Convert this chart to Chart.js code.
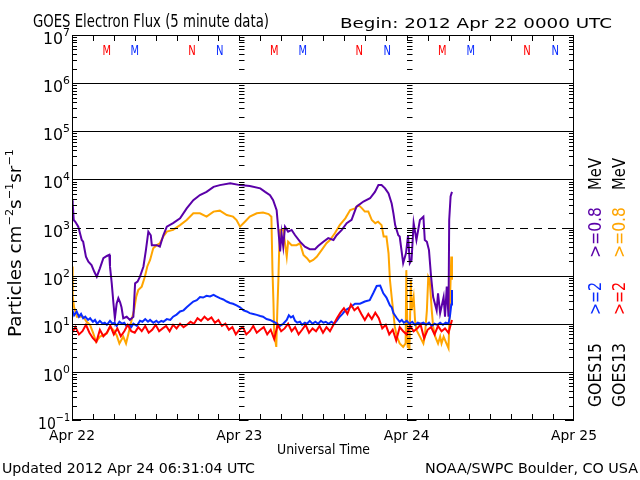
<!DOCTYPE html>
<html><head><meta charset="utf-8">
<script src="https://cdn.jsdelivr.net/npm/chart.js@4.4.0/dist/chart.umd.min.js"></script>
<style>html,body{margin:0;padding:0;background:#fff;}canvas{display:block;}</style>
</head><body>
<canvas id="c" width="640" height="480"></canvas>
<script>
// ---- Data: [hours since 2012 Apr 22 00:00 UTC, flux] ----
const goes15_08MeV = [[0,3700],[0.1,3200],[0.25,1430],[0.5,1300],[0.9,1040],[1.4,550],[1.6,507],[2.0,247],[2.35,195],[2.8,166],[3.2,120],[3.55,95],[4.0,142],[4.5,230],[5.0,256],[5.35,270],[5.45,154],[5.7,69],[5.95,26],[6.15,13],[6.4,26],[6.65,34],[6.9,28],[7.1,22],[7.35,13],[7.85,14],[8.3,12],[8.8,14],[9.05,69],[9.4,75],[9.75,95],[10.25,155],[10.6,340],[10.95,820],[11.3,690],[11.45,430],[12.15,430],[12.6,400],[13.1,690],[13.6,1040],[14.5,1230],[15.5,1550],[16.45,2500],[17.4,3700],[18.35,4730],[19.3,5500],[20.3,7000],[21.2,7600],[22.7,8300],[24.1,7600],[25.5,7300],[27.0,6500],[27.7,5500],[28.4,4700],[28.85,3700],[29.35,2300],[29.6,890],[29.85,318],[30.05,760],[30.3,400],[30.55,1040],[31.0,820],[31.5,890],[32.0,690],[32.7,507],[33.4,400],[34.1,355],[34.85,355],[35.3,412],[36.05,507],[36.75,600],[37.5,550],[37.95,690],[38.7,890],[39.4,1230],[40.1,1440],[40.8,2700],[41.8,3460],[42.75,4050],[43.45,5500],[43.95,7600],[44.4,7600],[44.9,6500],[45.4,5100],[45.85,3160],[46.1,1970],[46.35,1120],[46.8,690],[47.0,650],[47.5,182],[47.9,290],[48.2,690],[48.45,182],[48.7,211],[49.0,1230],[49.4,550],[49.9,1430],[50.4,1680],[50.6,550],[50.9,507],[51.2,340],[51.5,95],[51.8,36],[52.3,19],[52.5,43],[52.8,16.6],[53.3,36],[53.5,14],[53.75,59],[54.0,14],[54.1,1430],[54.3,4400],[54.5,5500]];

const goes13_08MeV = [[0,155],[0.1,36],[0.3,22],[0.7,14],[1.15,14],[1.6,14],[2.1,11],[2.6,9.4],[3.05,6.3],[3.45,4.2],[4.0,5.4],[5.0,6.3],[5.45,8.7],[5.95,7.4],[6.4,5.8],[6.8,3.9],[7.35,5.4],[7.75,3.9],[8.1,6.3],[8.55,12],[8.9,19],[9.2,36],[9.5,50],[10.0,59],[10.45,95],[10.8,155],[11.2,211],[11.65,370],[12.15,430],[12.6,470],[13.1,650],[13.6,820],[14.5,890],[15.5,1120],[16.45,1430],[17.4,1970],[18.35,1970],[19.3,1680],[20.3,2140],[21.2,2240],[22.2,1820],[23.1,1680],[23.6,1430],[24.1,1040],[24.8,1320],[25.5,1680],[26.5,1970],[27.4,2050],[28.2,1900],[28.6,1680],[28.75,130],[28.9,26],[29.0,6.3],[29.3,3.3],[29.45,19],[29.6,82],[29.7,290],[29.85,890],[30.3,890],[30.8,247],[31.0,507],[31.5,430],[32.2,430],[32.7,470],[33.2,270],[33.7,230],[34.1,195],[34.6,211],[35.1,247],[35.8,340],[36.5,470],[37.0,550],[37.7,760],[38.4,1120],[39.2,1550],[39.9,2300],[40.6,2500],[41.1,2930],[41.6,2500],[42.0,2140],[42.5,2140],[43.0,1430],[43.5,1230],[43.9,1320],[44.4,1120],[44.7,650],[45.1,650],[45.4,290],[45.6,82],[45.85,36],[46.1,16.6],[46.3,8.7],[46.6,5.4],[47.0,3.9],[47.5,3.3],[47.85,3.9],[47.95,130],[48.15,3.3],[48.4,3.1],[48.6,82],[48.7,19],[49.0,36],[49.2,12],[49.4,7.4],[49.9,5.4],[50.4,3.9],[50.6,5.4],[50.9,19],[51.1,95],[51.3,82],[51.6,19],[51.8,8.7],[52.1,5.4],[52.5,3.9],[52.8,5.4],[53.0,3.9],[53.3,5.4],[53.7,3.9],[54.0,3.1],[54.2,26],[54.4,250],[54.5,82]];

const goes15_2MeV = [[0,20],[0.3,15],[0.67,18],[1.0,14],[1.3,16],[1.6,13],[1.9,14],[2.3,12],[2.6,13],[3.0,11],[3.3,12],[3.6,10],[4.0,11.5],[4.4,10],[4.7,10.5],[5.0,9.5],[5.45,11.5],[5.8,10],[6.1,10.5],[6.4,9],[6.8,11],[7.2,10],[7.5,10.5],[7.8,9],[8.2,9.5],[8.5,8.5],[8.8,10],[9.3,9],[9.75,11.5],[10.1,11],[10.5,12.5],[10.9,11],[11.2,12],[11.66,10.5],[12.1,11.5],[12.4,10.5],[12.8,11.5],[13.1,11],[13.6,12.5],[14.1,12],[14.5,14],[15.0,15.5],[15.5,18],[16.0,19],[16.45,22],[16.9,25],[17.4,29],[17.9,31],[18.36,36],[18.8,35],[19.3,38],[19.8,37],[20.3,40],[20.7,37],[21.2,34],[21.7,32],[22.2,29],[22.66,27],[23.1,26],[23.6,24],[24.1,22],[24.6,19],[25.06,18],[25.5,16.6],[26.0,16],[26.5,15.3],[27.0,14.5],[27.4,14],[27.9,12.5],[28.4,12],[28.9,11],[29.35,10.2],[29.8,9],[30.3,10],[30.8,12],[31.1,15],[31.4,13.5],[31.7,14.5],[32.0,11.5],[32.3,10.5],[32.7,11],[33.0,9.5],[33.4,10.5],[33.7,10],[34.1,11.5],[34.5,10],[34.9,11],[35.3,10],[35.7,11.5],[36.05,10.5],[36.4,11],[36.8,10],[37.2,11],[37.6,10],[37.96,11.5],[38.4,14],[38.8,16],[39.2,19],[39.9,22],[40.6,26],[41.3,26],[42.0,29],[42.7,31],[43.2,43],[43.7,61],[44.2,62],[44.65,43],[45.1,35],[45.6,24],[45.85,22],[46.1,16.6],[46.6,13],[47.0,11],[47.3,12],[47.6,10.5],[48.0,11.5],[48.4,10],[48.8,11],[49.2,9.5],[49.6,10.5],[50.0,10],[50.4,10.5],[50.8,9.5],[51.2,10.5],[51.6,9],[52.0,10],[52.4,9.5],[52.8,10.5],[53.2,9.5],[53.6,10.5],[54.0,10],[54.2,14],[54.4,25],[54.5,50]];

const goes13_2MeV = [[0,6.5],[0.5,8.5],[1,6],[1.5,7],[2,9.5],[2.5,6.5],[3,5],[3.5,4.2],[4,7.5],[4.5,5.5],[5,6.5],[5.5,9],[6,6],[6.5,8],[7,5.5],[7.5,7],[8,9.5],[8.5,7],[9,6.5],[9.5,8.5],[10,7],[10.5,9],[11,6.5],[11.5,7.5],[12,9.5],[12.5,7],[13,8],[13.5,9],[14,7],[14.5,9.5],[15,8],[15.5,10],[16,8.5],[16.5,9.5],[17,11],[17.5,10],[18,13],[18.5,11.5],[19,14],[19.5,12],[20,13.5],[20.5,10.5],[21,12],[21.5,9],[22,10],[22.5,7.5],[23,8.5],[23.5,6],[24,7.5],[24.5,8.5],[25,6],[25.5,7],[26,9],[26.5,6.5],[27,7.5],[27.5,8.5],[28,6],[28.5,7.5],[29,4.8],[29.5,9.5],[30,7],[30.5,8],[31,10],[31.5,7],[32,8.5],[32.5,6],[33,7.5],[33.5,9.5],[34,6.5],[34.5,8],[35,7],[35.5,9],[36,6.5],[36.5,8.5],[37,7],[37.5,9.5],[38,13],[38.5,17],[39,21],[39.5,16],[40,25],[40.5,19],[41,22],[41.5,16],[42,12],[42.5,16],[43,12.5],[43.5,17],[44,13],[44.5,8],[45,9.5],[45.5,6],[46,7.5],[46.5,4.5],[47,8.5],[47.5,7],[48,6],[48.5,9],[49,7],[49.5,8],[50,9.5],[50.5,5],[51,7.5],[51.5,8.5],[52,6],[52.5,9],[53,7],[53.5,8],[54,6.5],[54.5,12]];

// Local midnight (M) and noon (N) markers, hours
const g13Midnight = [5, 29, 53.1];
const g15Midnight = [9, 33.1, 57.2];
const g13Noon = [17.2, 41.2, 65.25];
const g15Noon = [21.2, 45.2, 69.3];

const dayTicks = [0, 24, 48, 72];
const dayLabels = ['Apr 22', 'Apr 23', 'Apr 24', 'Apr 25'];
const decades = [-1, 0, 1, 2, 3, 4, 5, 6, 7];

const FONT = '"DejaVu Sans", "Liberation Sans", sans-serif';
const PURPLE = '#5a00a8', ORANGE = '#ffa500', BLUE = '#0a2cff', RED = '#ff0000';

function drawRuns(ctx, runs, x, y, o) {
  o = o || {};
  ctx.save();
  ctx.textBaseline = o.base || 'alphabetic';
  ctx.textAlign = 'left';
  let W = 0;
  const ws = runs.map(r => { ctx.font = r.s + 'px ' + FONT; const w = ctx.measureText(r.t).width; W += w; return w; });
  const sx = o.w ? o.w / W : 1;
  ctx.translate(x, y);
  if (o.rot) ctx.rotate(o.rot);
  ctx.scale(sx, 1);
  let cx = o.align === 'center' ? -W / 2 : (o.align === 'right' ? -W : 0);
  runs.forEach((r, i) => {
    ctx.font = r.s + 'px ' + FONT;
    ctx.fillStyle = r.c || '#000';
    ctx.fillText(r.t, cx, r.dy || 0);
    cx += ws[i];
  });
  ctx.restore();
}

const pts = arr => arr.map(p => ({x: p[0], y: p[1]}));

const decorPlugin = {
  id: 'decor',
  afterDatasetsDraw(chart) {
    const ctx = chart.ctx, xs = chart.scales.x, ys = chart.scales.y, a = chart.chartArea;
    const L = a.left, R = a.right, T = a.top, B = a.bottom;
    const py = v => Math.round(ys.getPixelForValue(v)) + 0.5;
    const px = h => Math.round(xs.getPixelForValue(h)) + 0.5;
    ctx.save();
    ctx.strokeStyle = '#000';
    ctx.lineWidth = 1;
    decades.forEach(d => {
      if (d <= -1 || d >= 7) return;
      const y = py(Math.pow(10, d));
      ctx.beginPath();
      ctx.setLineDash(d === 3 ? [8, 6] : []);
      ctx.moveTo(L, y); ctx.lineTo(R, y); ctx.stroke();
    });
    ctx.setLineDash([]);
    ctx.beginPath();
    decades.forEach(d => {
      if (d >= 7) return;
      for (let m = 2; m <= 9; m++) {
        const y = py(m * Math.pow(10, d));
        ctx.moveTo(L, y); ctx.lineTo(L + 5, y);
        ctx.moveTo(R, y); ctx.lineTo(R - 5, y);
        [24, 48].forEach(h => { const x = px(h); ctx.moveTo(x - 0.5, y); ctx.lineTo(x + 5, y); });
      }
    });
    decades.forEach(d => {
      const y = py(Math.pow(10, d));
      ctx.moveTo(L, y); ctx.lineTo(L + 9, y);
      ctx.moveTo(R, y); ctx.lineTo(R - 9, y);
      [24, 48].forEach(h => { const x = px(h); ctx.moveTo(x - 0.5, y); ctx.lineTo(x + 9, y); });
    });
    for (let h = 3; h < 72; h += 3) {
      const x = px(h);
      ctx.moveTo(x, T); ctx.lineTo(x, T + 6);
      ctx.moveTo(x, B); ctx.lineTo(x, B - 6);
    }
    ctx.stroke();
    ctx.strokeRect(L + 0.5, T + 0.5, R - L - 1, B - T - 1);
    ctx.restore();

    decades.forEach(d => {
      const y = ys.getPixelForValue(Math.pow(10, d));
      const e = String(d).replace('-', '\u2212');
      drawRuns(ctx, [{t: '10', s: 16}, {t: e, s: 11, dy: -8}], 70, y + 9, {align: 'right', w: d < 0 ? 32 : 27});
    });
    dayTicks.forEach((h, i) => {
      drawRuns(ctx, [{t: dayLabels[i], s: 14}], xs.getPixelForValue(h), 440, {align: 'center', w: 46});
    });
    const mark = (arr, t, c) => arr.forEach(h => {
      if (h > 72) return;
      drawRuns(ctx, [{t: t, s: 14, c: c}], xs.getPixelForValue(h), 55, {align: 'center', w: t === 'M' ? 8.5 : 7.5});
    });
    mark(g13Midnight, 'M', RED); mark(g15Midnight, 'M', BLUE);
    mark(g13Noon, 'N', RED); mark(g15Noon, 'N', BLUE);
  }
};

const textPlugin = {
  id: 'texts',
  afterDraw(chart) {
    const ctx = chart.ctx;
    drawRuns(ctx, [{t: 'GOES Electron Flux (5 minute data)', s: 17}], 33, 27, {w: 236});
    drawRuns(ctx, [{t: 'Begin: 2012 Apr 22 0000 UTC', s: 14}], 340, 28, {w: 272});
    drawRuns(ctx, [{t: 'Universal Time', s: 14}], 323.5, 454, {align: 'center', w: 93});
    drawRuns(ctx, [{t: 'Updated 2012 Apr 24 06:31:04 UTC', s: 14}], 2, 473, {w: 253});
    drawRuns(ctx, [{t: 'NOAA/SWPC Boulder, CO USA', s: 14}], 638, 473, {align: 'right', w: 213});
    drawRuns(ctx, [
      {t: 'Particles cm', s: 18}, {t: '\u22122', s: 11, dy: -8},
      {t: 's', s: 18}, {t: '\u22121', s: 11, dy: -8},
      {t: 'sr', s: 18}, {t: '\u22121', s: 11, dy: -8}
    ], 21, 243, {rot: -Math.PI / 2, align: 'center', w: 188});
    const rot = -Math.PI / 2;
    const col = (x, sat, c2, c08) => {
      drawRuns(ctx, [{t: sat, s: 17}], x, 375, {rot, align: 'center', w: 64, base: 'middle'});
      drawRuns(ctx, [{t: '>=2', s: 17, c: c2}], x, 298.5, {rot, align: 'center', w: 33, base: 'middle'});
      drawRuns(ctx, [{t: '>=0.8', s: 17, c: c08}], x, 232.5, {rot, align: 'center', w: 51, base: 'middle'});
      drawRuns(ctx, [{t: 'MeV', s: 17}], x, 174, {rot, align: 'center', w: 32, base: 'middle'});
    };
    col(597, 'GOES15', BLUE, PURPLE);
    col(621, 'GOES13', RED, ORANGE);
  }
};

const ds = (label, arr, color, order) => ({
  label, data: pts(arr), borderColor: color, backgroundColor: color,
  borderWidth: 2, pointRadius: 0, tension: 0, fill: false, order
});

new Chart(document.getElementById('c'), {
  type: 'line',
  data: {
    datasets: [
      ds('GOES13 >=2 MeV', goes13_2MeV, RED, 0),
      ds('GOES15 >=2 MeV', goes15_2MeV, BLUE, 1),
      ds('GOES15 >=0.8 MeV', goes15_08MeV, PURPLE, 2),
      ds('GOES13 >=0.8 MeV', goes13_08MeV, ORANGE, 3)
    ]
  },
  options: {
    responsive: false,
    animation: false,
    devicePixelRatio: 1,
    layout: {padding: {left: 72, top: 35, right: 66, bottom: 60}},
    scales: {
      x: {type: 'linear', min: 0, max: 72, display: false},
      y: {type: 'logarithmic', min: 0.1, max: 1e7, display: false}
    },
    plugins: {legend: {display: false}, tooltip: {enabled: false}}
  },
  plugins: [decorPlugin, textPlugin]
});
</script>
</body></html>
